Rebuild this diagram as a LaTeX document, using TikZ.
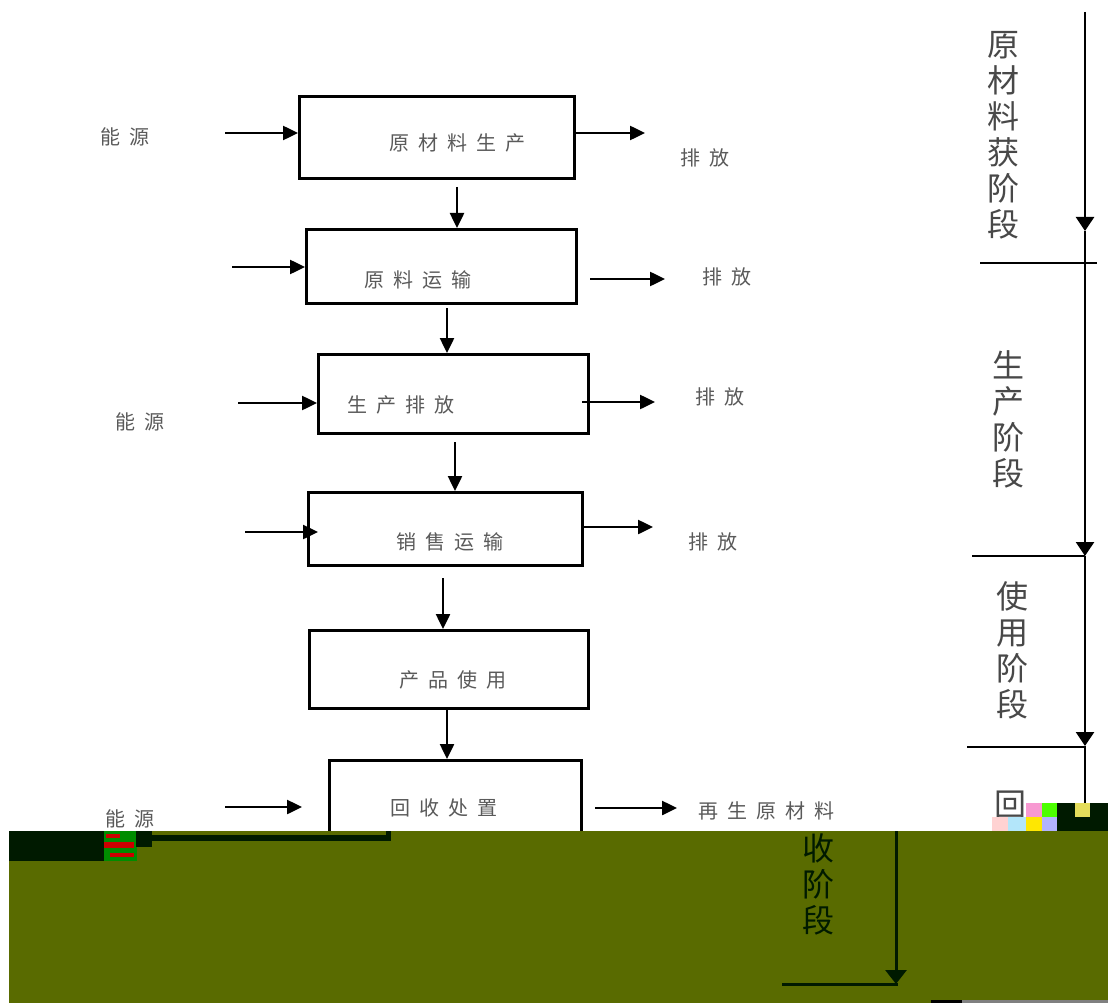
\documentclass[tikz,border=0pt]{standalone}
\usepackage{fontspec}
\newfontfamily\cjk{Noto Sans CJK SC}
\usetikzlibrary{arrows.meta}
\definecolor{txtgray}{RGB}{90,90,90}
\definecolor{stggray}{RGB}{72,72,72}
\definecolor{glitcholive}{RGB}{89,107,0}
\definecolor{glitchdark}{RGB}{0,26,0}
\newcommand\gp{\kern9pt}
\begin{document}
\begin{tikzpicture}[x=1pt,y=-1pt,
  box/.style={draw=black, line width=3pt, inner sep=0pt, anchor=north west},
  arr/.style={line width=2.5pt, -{Triangle[length=15pt,width=14pt]}},
  sarr/.style={line width=2.5pt, -{Triangle[length=14pt,width=18pt]}},
  lbl/.style={font=\cjk\fontsize{20}{20}\selectfont, text=txtgray, inner sep=0pt},
  stg/.style={font=\cjk\fontsize{32}{36}\selectfont, text=stggray, inner sep=0pt, align=center},
]
\useasboundingbox (0,0) rectangle (1108,1003);
\fill[white] (0,0) rectangle (1108,1003);

% boxes
\node[box, minimum width=275pt, minimum height=82pt] (b1) at (298,95) {};
\node[box, minimum width=270pt, minimum height=74pt] (b2) at (305,228) {};
\node[box, minimum width=270pt, minimum height=79pt] (b3) at (317,353) {};
\node[box, minimum width=274pt, minimum height=73pt] (b4) at (307,491) {};
\node[box, minimum width=279pt, minimum height=78pt] (b5) at (308,629) {};
\node[box, minimum width=252pt, minimum height=150pt] (b6) at (328,759) {};

% box labels
\node[lbl] (t1) at (457,143) {原\gp 材\gp 料\gp 生\gp 产};
\node[lbl] (t2) at (418,280) {原\gp 料\gp 运\gp 输};
\node[lbl] (t3) at (401,405) {生\gp 产\gp 排\gp 放};
\node[lbl] (t4) at (450,542) {销\gp 售\gp 运\gp 输};
\node[lbl] (t5) at (453,680) {产\gp 品\gp 使\gp 用};
\node[lbl] (t6) at (444,808) {回\gp 收\gp 处\gp 置};

% side labels
\node[lbl] (e1) at (125,137) {能\gp 源};
\node[lbl] (e2) at (140,422) {能\gp 源};
\node[lbl] (e3) at (130,819) {能\gp 源};
\node[lbl] (p1) at (705,158) {排\gp 放};
\node[lbl] (p2) at (727,277) {排\gp 放};
\node[lbl] (p3) at (720,397) {排\gp 放};
\node[lbl] (p4) at (713,542) {排\gp 放};
\node[lbl] (r6) at (766,811) {再\gp 生\gp 原\gp 材\gp 料};

% input arrows
\coordinate (i1) at (225,133);
\coordinate (i2) at (232,267);
\coordinate (i3) at (238,403);
\coordinate (i4) at (245,532);
\coordinate (i6) at (225,807);
\draw[arr] (i1) -- (i1 -| b1.west);
\draw[arr] (i2) -- (i2 -| b2.west);
\draw[arr] (i3) -- (i3 -| b3.west);
\draw[arr] (i4) -- (318,532);
\draw[arr] (i6) -- (302,807);

% output arrows
\coordinate (o1) at (645,133);
\coordinate (o2s) at (590,279);
\coordinate (o2) at (665,279);
\coordinate (o3) at (655,402);
\coordinate (o4) at (653,527);
\coordinate (o6s) at (595,808);
\coordinate (o6) at (677,808);
\draw[arr] (o1 -| b1.east) -- (o1);
\draw[arr] (o2s) -- (o2);
\draw[arr] (582,402) -- (o3);
\draw[arr] (582,527) -- (o4);
\draw[arr] (o6s) -- (o6);

% down arrows
\coordinate (d1) at (457,187);
\coordinate (d2) at (447,308);
\coordinate (d3) at (455,442);
\coordinate (d4) at (443,578);
\coordinate (d5) at (447,709);
\draw[arr] (d1) -- (d1 |- b2.north);
\draw[arr] (d2) -- (d2 |- b3.north);
\draw[arr] (d3) -- (d3 |- b4.north);
\draw[arr] (d4) -- (d4 |- b5.north);
\draw[arr] (d5) -- (d5 |- b6.north);

% stage column
\coordinate (s0) at (1085,12);
\coordinate (s1) at (1085,231);
\coordinate (s2) at (1085,556);
\coordinate (s3) at (1085,746);
\coordinate (s4) at (1085,860);
\draw[sarr] (s0) -- (s1);
\draw[sarr] (s1) -- (s2);
\draw[sarr] (s2) -- (s3);
\draw[line width=2.5pt] (s3) -- (s4);
\coordinate (h1) at (980,263);
\coordinate (h2) at (972,556);
\coordinate (h3) at (967,747);
\draw[line width=2.5pt] (h1) -- (1097,263);
\draw[line width=2.5pt] (h2) -- (s2);
\draw[line width=2.5pt] (h3) -- (1085,747);

\node[stg] (g1) at (1003,135) {原\\材\\料\\获\\阶\\段};
\node[stg] (g2) at (1008,419) {生\\产\\阶\\段};
\node[stg] (g3) at (1012,650) {使\\用\\阶\\段};
\node[stg, anchor=north] (g4) at (1010,791) {回};

% glitched band
\fill[glitcholive] (9,831) rectangle (1108,1003);
\fill[glitchdark] (9,831) rectangle (104,861);
\fill[green!55!black] (104,831) rectangle (137,861);
\fill[red!80!black] (106,834) rectangle (120,838);
\fill[red!80!black] (104,842) rectangle (134,848);
\fill[red!80!black] (110,853) rectangle (134,857);
\fill[glitchdark] (136,831) rectangle (152,847);
\fill[glitchdark] (152,835) rectangle (391,841);
\fill[glitchdark] (386,831) rectangle (391,841);

\node[stg, text=glitchdark] (g5) at (818,884) {收\\阶\\段};
\coordinate (q0) at (896,831);
\coordinate (q1) at (896,984);
\coordinate (q2) at (782,984);
\draw[glitchdark, line width=3pt, -{Triangle[length=14pt,width=21pt]}] (q0) -- (q1);
\draw[glitchdark, line width=3pt] (q2) -- (898,984);

% glitch squares top right
\fill[magenta!40] (1026,803) rectangle (1042,817);
\fill[green!70!yellow] (1042,803) rectangle (1057,817);
\fill[glitchdark] (1057,803) rectangle (1075,817);
\fill[yellow!60!olive!60] (1075,803) rectangle (1090,817);
\fill[glitchdark] (1090,803) rectangle (1108,831);
\fill[pink!70] (992,817) rectangle (1008,831);
\fill[cyan!30] (1008,817) rectangle (1026,831);
\fill[yellow!90!orange] (1026,817) rectangle (1042,831);
\fill[blue!30] (1042,817) rectangle (1057,831);
\fill[glitchdark] (1057,817) rectangle (1090,831);

% bottom strip
\fill[black] (931,1000) rectangle (962,1003);
\fill[gray] (962,1000) rectangle (1108,1003);
\end{tikzpicture}
\end{document}
